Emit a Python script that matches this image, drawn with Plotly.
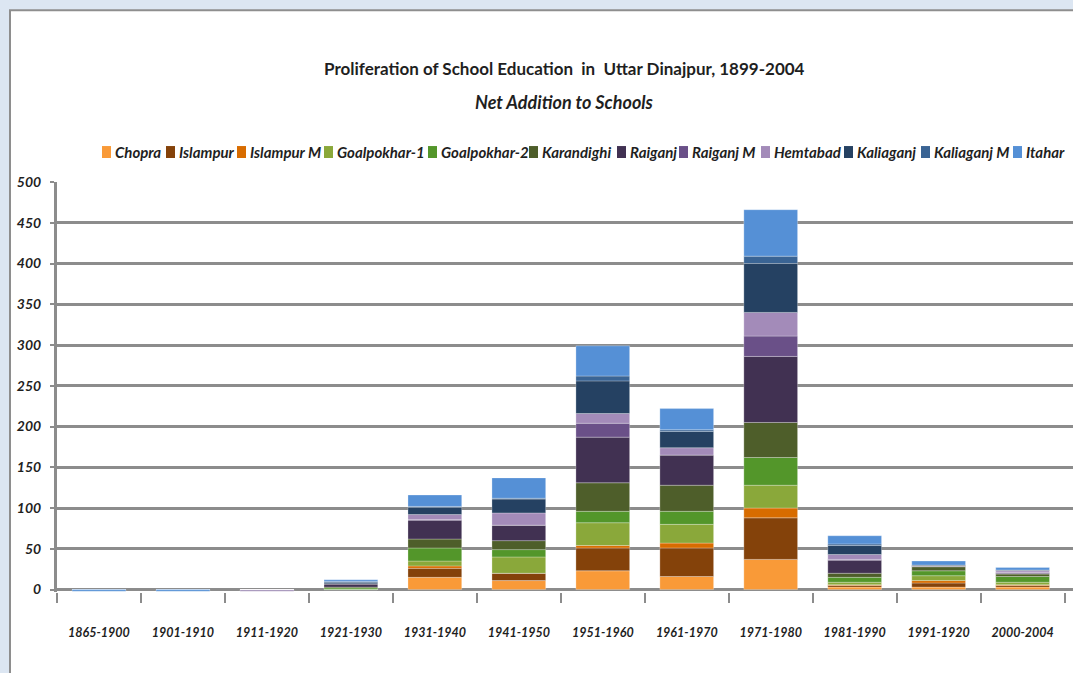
import plotly.graph_objects as go

periods = ["1865-1900", "1901-1910", "1911-1920", "1921-1930", "1931-1940", "1941-1950",
           "1951-1960", "1961-1970", "1971-1980", "1981-1990", "1991-1920", "2000-2004"]

chopra       = [0, 0, 0, 0, 15, 11, 23, 16, 37, 3, 3, 3]
islampur     = [0, 0, 0, 0, 11, 9, 28, 35, 51, 2, 5, 2]
islampur_m   = [0, 0, 0, 0, 3, 0, 3, 6, 12, 1, 3, 1]
goalpokhar_1 = [0, 0, 0, 0, 6, 20, 28, 23, 28, 3, 6, 3]
goalpokhar_2 = [0, 0, 0, 2, 16, 9, 14, 16, 34, 6, 6, 7]
karandighi   = [0, 0, 0, 1, 11, 11, 35, 32, 43, 5, 5, 3]
raiganj      = [0, 0, 0, 4, 23, 19, 56, 37, 81, 16, 1, 1]
raiganj_m    = [0, 0, 0, 0, 1, 0, 17, 0, 25, 1, 0, 1]
hemtabad     = [0, 0, -2, 0, 6, 15, 12, 9, 29, 6, 0, 2]
kaliaganj    = [0, 0, 0, 2, 9, 17, 40, 20, 60, 11, 1, 1]
kaliaganj_m  = [0, 0, 0, 1, 1, 1, 6, 2, 9, 2, 0, 0]
itahar       = [-2, -2, 0, 2, 14, 25, 37, 26, 57, 10, 5, 3]

names = ["Chopra", "Islampur", "Islampur M", "Goalpokhar-1", "Goalpokhar-2", "Karandighi",
         "Raiganj", "Raiganj M", "Hemtabad", "Kaliaganj", "Kaliaganj M", "Itahar"]
series = [chopra, islampur, islampur_m, goalpokhar_1, goalpokhar_2, karandighi,
          raiganj, raiganj_m, hemtabad, kaliaganj, kaliaganj_m, itahar]
colors = ["#F99A38", "#84420A", "#D86C00", "#8AA83A", "#53962A", "#4E5E2A",
          "#413152", "#6A5088", "#A38BB9", "#254162", "#3A6494", "#5590D6"]

# legend layout (pixel x of key box left edges)
legend_box_x = [102, 166, 237, 324, 428, 529, 617, 679, 761, 844, 921, 1013]

FONT = "Lato"
W, H = 1073, 673
ML, MR, MT = 57, 0, 182
Y0, Y1 = -3, 500
PX_PER_UNIT = 408 / 500
plot_h = (Y1 - Y0) * PX_PER_UNIT
MB = H - MT - plot_h
plot_w = W - ML - MR


def px_to_paper_x(px):
    return (px - ML) / plot_w


def px_to_paper_y(py):
    return (MT + plot_h - py) / plot_h


fig = go.Figure()
for name, vals, col in zip(names, series, colors):
    fig.add_trace(go.Bar(
        x=periods, y=vals, name=name, marker_color=col,
        marker_line_width=0.6, marker_line_color="rgba(255,255,255,0.45)",
        showlegend=False,
    ))

shapes = [
    dict(type="rect", xref="paper", yref="paper", layer="below",
         x0=px_to_paper_x(10), x1=px_to_paper_x(1100),
         y0=px_to_paper_y(720), y1=px_to_paper_y(10),
         fillcolor="white", line=dict(color="#8E8E8E", width=2)),
]
annotations = [
    dict(text="Proliferation of School Education  in  Uttar Dinajpur, 1899-2004",
         xref="paper", yref="paper", x=px_to_paper_x(564), y=px_to_paper_y(68),
         xanchor="center", yanchor="middle", showarrow=False,
         font=dict(family=FONT, size=17, color="#1F1F1F", weight="bold")),
    dict(text="Net Addition to Schools",
         xref="paper", yref="paper", x=px_to_paper_x(564), y=px_to_paper_y(102),
         xanchor="center", yanchor="middle", showarrow=False,
         font=dict(family=FONT, size=18, color="#1F1F1F", weight="bold", style="italic")),
]
for name, col, bx in zip(names, colors, legend_box_x):
    shapes.append(dict(type="rect", xref="paper", yref="paper",
                       x0=px_to_paper_x(bx), x1=px_to_paper_x(bx + 9),
                       y0=px_to_paper_y(158), y1=px_to_paper_y(146),
                       fillcolor=col, line=dict(width=0)))
    annotations.append(dict(text=name, xref="paper", yref="paper",
                            x=px_to_paper_x(bx + 11), y=px_to_paper_y(152),
                            xanchor="left", yanchor="middle", showarrow=False,
                            font=dict(family=FONT, size=15, color="#1F1F1F",
                                      weight="bold", style="italic")))

fig.update_layout(
    width=W, height=H,
    margin=dict(l=ML, r=MR, t=MT, b=MB, pad=0),
    paper_bgcolor="#DCE6F2",
    plot_bgcolor="rgba(0,0,0,0)",
    barmode="relative",
    bargap=0.36,
    shapes=shapes,
    annotations=annotations,
    xaxis=dict(
        type="category", range=[-0.5, 11.6],
        tickson="boundaries", ticks="outside", ticklen=10, tickwidth=2,
        tickcolor="#8C8C8C", showgrid=False, showline=False,
        ticklabelstandoff=31,
        tickfont=dict(family=FONT, size=12.5, color="#1F1F1F", weight="bold", style="italic"),
    ),
    yaxis=dict(
        range=[Y0, Y1], tick0=0, dtick=50, showgrid=True,
        gridcolor="#8C8C8C", gridwidth=2.5,
        zeroline=True, zerolinecolor="#8C8C8C", zerolinewidth=3,
        showline=True, linecolor="#8C8C8C", linewidth=3,
        ticks="outside", ticklen=4, tickwidth=2, tickcolor="#8C8C8C",
        ticklabelstandoff=6,
        tickfont=dict(family=FONT, size=14, color="#1F1F1F", weight="bold", style="italic"),
    ),
)

fig.write_html(
    "out.html",
    config={"displayModeBar": False},
    post_script="document.body.style.margin='0';document.body.style.overflow='hidden';"
                "document.body.style.background='#DCE6F2';",
)
